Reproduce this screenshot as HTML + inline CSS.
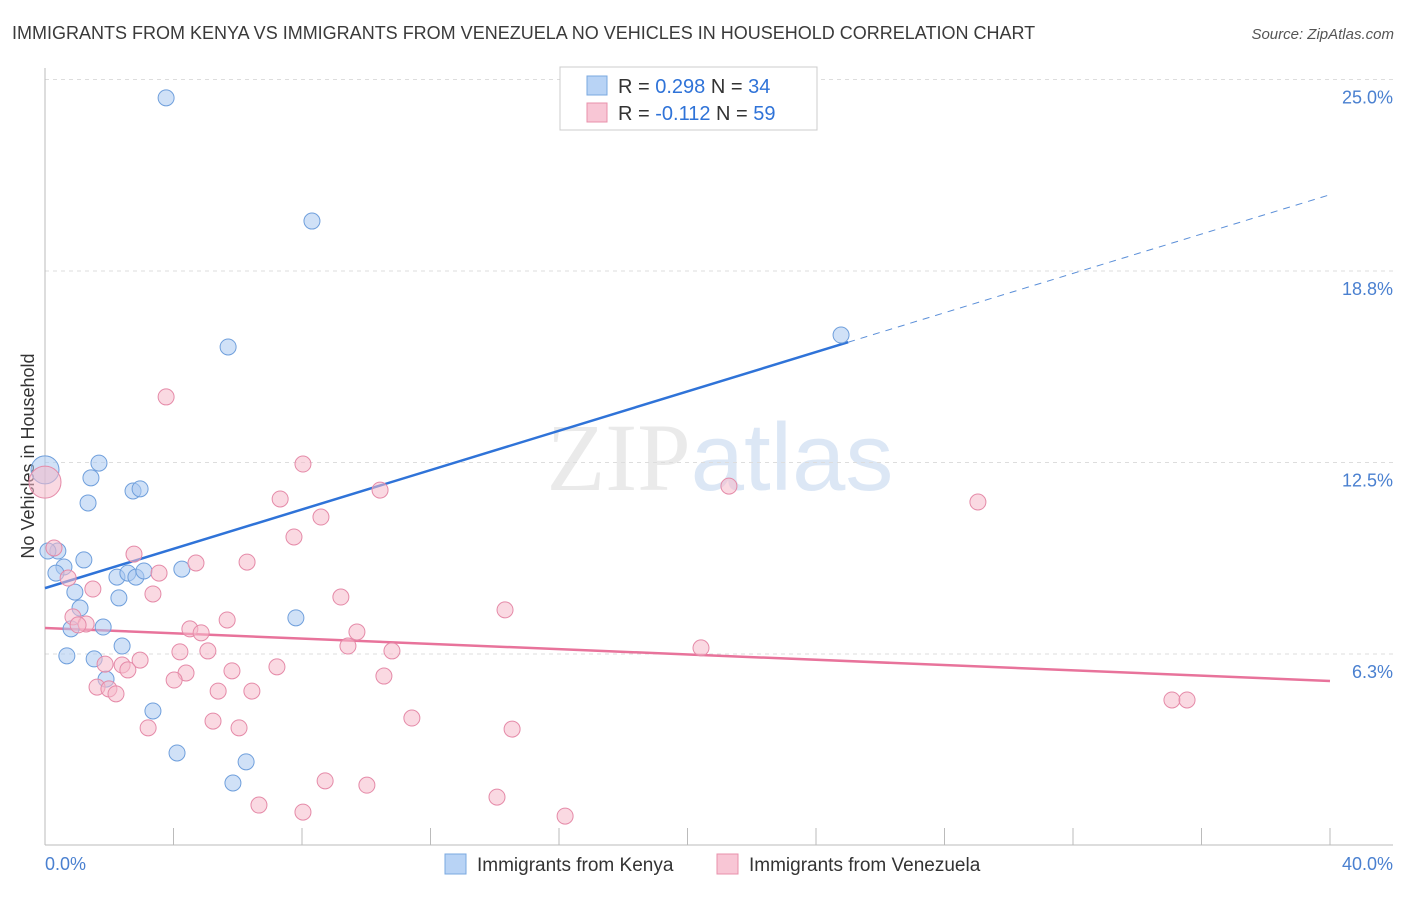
<!DOCTYPE html>
<html><head><meta charset="utf-8"><style>
body{margin:0;background:#fff;font-family:"Liberation Sans",sans-serif;}
svg text{font-family:"Liberation Sans",sans-serif;}
</style></head><body>
<svg id="chart" width="1406" height="892" xmlns="http://www.w3.org/2000/svg">
<text x="12" y="39" font-size="18" fill="#3a3a3a">IMMIGRANTS FROM KENYA VS IMMIGRANTS FROM VENEZUELA NO VEHICLES IN HOUSEHOLD CORRELATION CHART</text>
<text x="1394" y="39" font-size="15" fill="#555" text-anchor="end" font-style="italic">Source: ZipAtlas.com</text>
<text x="720" y="490" font-size="96" text-anchor="middle" fill="#ddd" opacity="0.6"><tspan font-family="Liberation Serif">ZIP</tspan><tspan fill="#c5d8f0">atlas</tspan></text>
<text transform="translate(34,456) rotate(-90)" font-size="18" fill="#333" text-anchor="middle">No Vehicles in Household</text>
<g id="grid"></g><g id="ticks"></g><g id="trend"></g><g id="points"></g>
<g>
<rect x="560" y="67" width="257" height="63" fill="#fff" stroke="#ccc"/>
<rect x="587" y="76" width="20" height="19" fill="#b8d3f5" stroke="#7aa8e0"/>
<text x="618" y="93" font-size="20" fill="#333">R = <tspan fill="#2f73d8">0.298</tspan>   N = <tspan fill="#2f73d8">34</tspan></text>
<rect x="587" y="103" width="20" height="19" fill="#f8c6d5" stroke="#e890ab"/>
<text x="618" y="120" font-size="20" fill="#333">R = <tspan fill="#2f73d8">-0.112</tspan>   N = <tspan fill="#2f73d8">59</tspan></text>
</g>
<g>
<rect x="445" y="854" width="21" height="20" fill="#b8d3f5" stroke="#7aa8e0"/>
<text x="477" y="871" font-size="19" fill="#333">Immigrants from Kenya</text>
<rect x="717" y="854" width="21" height="20" fill="#f8c6d5" stroke="#e890ab"/>
<text x="749" y="871" font-size="19" fill="#333">Immigrants from Venezuela</text>
</g>
</svg>
<script>
const yTicks=[6.25,12.5,18.75,25];
const yTickLabels=["6.3%","12.5%","18.8%","25.0%"];
const xTicks=[0,4,8,12,16,20,24,28,32,36,40];
const kenyaX=[3.77,8.31,5.70,24.78,0,1.68,1.43,1.34,2.74,2.96,0.40,0.09,1.21,0.59,0.34,2.24,2.58,2.83,3.08,4.26,0.93,2.30,1.09,0.81,1.81,7.81,2.40,0.68,1.53,1.90,3.36,4.11,6.26,5.85];
const kenyaY=[24.40,20.38,16.27,16.66,12.26,12.48,12.00,11.18,11.57,11.64,9.61,9.61,9.32,9.09,8.89,8.76,8.89,8.76,8.96,9.02,8.27,8.08,7.75,7.07,7.13,7.43,6.51,6.19,6.09,5.43,4.39,3.02,2.73,2.04];
const venX=[0,3.77,8.03,10.43,21.29,29.04,7.32,8.59,7.75,0.28,2.77,4.70,6.29,3.55,0.72,1.49,3.36,9.21,14.32,0.87,1.28,1.03,5.67,4.51,4.86,9.71,9.43,10.80,20.42,4.20,5.07,2.96,1.87,2.40,2.58,7.22,5.82,4.39,4.02,10.55,1.62,1.99,2.21,5.39,6.44,35.08,35.55,5.23,11.42,3.21,6.04,14.54,8.72,10.02,14.07,6.66,8.03,16.19];
const venY=[11.86,14.64,12.45,11.60,11.73,11.21,11.31,10.72,10.07,9.71,9.51,9.22,9.25,8.89,8.73,8.37,8.21,8.11,7.69,7.46,7.23,7.20,7.36,7.07,6.94,6.97,6.51,6.35,6.45,6.32,6.35,6.05,5.92,5.89,5.73,5.83,5.70,5.63,5.40,5.53,5.17,5.11,4.95,5.04,5.04,4.75,4.75,4.06,4.16,3.84,3.84,3.80,2.11,1.97,1.58,1.32,1.09,0.96];
const kenyaTrend=[8.40,21.24];
const venTrend=[7.10,5.37];
const NS="http://www.w3.org/2000/svg";
const X=v=>45+v/40*1285, Y=v=>845.5-v*30.64;
function mk(p,tag,a){const e=document.createElementNS(NS,tag);for(const k in a)e.setAttribute(k,a[k]);document.getElementById(p).appendChild(e);return e;}
yTicks.forEach((t,i)=>{
 const l=mk('grid','line',{x1:45,x2:1393,y1:Y(t),y2:Y(t),stroke:'#ddd','stroke-dasharray':'4,4'});
 
 
 const tx=mk('ticks','text',{x:1393,y:Y(t)+24,'font-size':18,fill:'#4a80d0','text-anchor':'end'});
 tx.textContent=yTickLabels[i];
 
 
});
const ax=mk('ticks','line',{x1:45,x2:1393,y1:845,y2:845,stroke:'#bbb'});


const ay=mk('ticks','line',{x1:45,x2:45,y1:68,y2:845,stroke:'#bbb'});


xTicks.forEach(t=>{
 const l=mk('ticks','line',{x1:X(t),x2:X(t),y1:828,y2:845,stroke:'#bbb'});
 
 
});
[[0,"0.0%","start",45],[40,"40.0%","end",1393]].forEach(d=>{
 const t=mk('ticks','text',{x:d[3],y:870,'font-size':18,fill:'#4a80d0','text-anchor':d[2]});
 t.textContent=d[1];
 
 
});
function dot(x,y,r,fill,stroke,name){
 const c=mk('points','circle',{cx:X(x),cy:Y(y),r:r,fill:fill,stroke:stroke,'fill-opacity':0.55,'stroke-width':1});
 
 
}
kenyaX.forEach((x,i)=>dot(x,kenyaY[i],(x===0?14:8),'#a9c8f0','#6f9fdc','kenya-point'));
venX.forEach((x,i)=>dot(x,venY[i],(x===0?16:8),'#f6b9cb','#e58aa8','venezuela-point'));
const kx2=25;
const k1=mk('trend','line',{x1:X(0),y1:Y(kenyaTrend[0]),x2:X(kx2),y2:Y(kenyaTrend[0]+(kenyaTrend[1]-kenyaTrend[0])*kx2/40),stroke:'#2f73d8','stroke-width':2.5});


const k2=mk('trend','line',{x1:X(kx2),y1:Y(kenyaTrend[0]+(kenyaTrend[1]-kenyaTrend[0])*kx2/40),x2:X(40),y2:Y(kenyaTrend[1]),stroke:'#5b8fd8','stroke-width':1,'stroke-dasharray':'7,6'});


const v1=mk('trend','line',{x1:X(0),y1:Y(venTrend[0]),x2:X(40),y2:Y(venTrend[1]),stroke:'#e8739b','stroke-width':2.5});


</script>
</body></html>
